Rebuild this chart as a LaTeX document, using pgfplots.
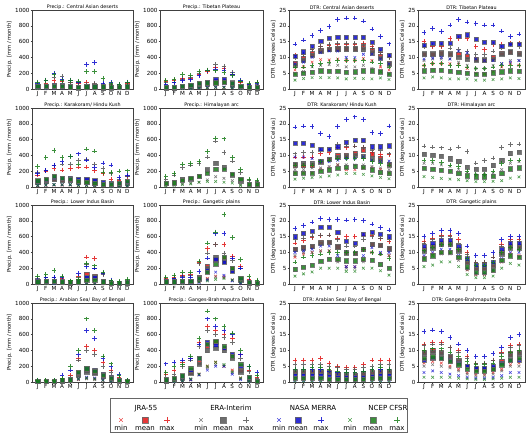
\documentclass[border=0pt]{standalone}
\usepackage{fontspec}
\setmainfont{DejaVu Sans}
\usepackage{pgfplots}
\usepackage{pgfplotstable}
\pgfplotsset{compat=1.18}

\definecolor{cJ}{RGB}{225,20,20}
\definecolor{cE}{RGB}{85,85,85}
\definecolor{cM}{RGB}{10,10,205}
\definecolor{cC}{RGB}{25,125,25}

% columns: m | JRA min mean max | ERA min mean max | MERRA min mean max | CFSR min mean max
\pgfplotstableread{
m a b c d e f g h i j k l
1 5 25 60 5 20 50 8 30 70 10 35 90
2 6 28 70 6 25 60 8 35 115 10 35 105
3 10 45 110 8 40 150 10 50 200 12 40 180
4 10 40 100 8 35 160 10 45 120 10 35 110
5 8 30 80 6 25 90 8 35 115 8 30 110
6 5 20 70 4 18 80 5 25 90 5 25 100
7 5 25 80 4 20 60 5 30 310 5 30 220
8 5 25 60 4 20 70 5 30 335 5 30 225
9 3 15 50 3 15 60 4 25 70 5 30 130
10 4 20 60 4 18 60 5 25 80 5 25 70
11 5 22 50 4 20 50 5 25 60 5 25 55
12 5 25 70 5 22 60 6 30 90 8 30 80
}\tpCAD
\pgfplotstableread{
m a b c d e f g h i j k l
1 3 15 100 3 12 80 5 20 60 5 25 110
2 4 18 110 3 15 90 5 25 80 5 28 120
3 6 28 130 5 25 120 8 35 110 8 40 180
4 8 35 130 6 30 150 10 45 120 10 50 170
5 10 45 180 8 40 200 12 60 170 12 70 220
6 15 70 220 12 65 240 20 90 230 15 80 240
7 20 100 280 18 90 310 25 120 250 20 80 230
8 20 95 260 18 85 290 25 125 240 20 85 210
9 12 60 190 10 55 210 15 80 180 15 70 170
10 5 25 90 4 20 100 8 35 110 8 35 100
11 2 12 60 2 10 50 4 18 60 4 20 70
12 2 12 80 2 10 60 4 18 70 4 20 90
}\tpTP
\pgfplotstableread{
m a b c d e f g h i j k l
1 6 8.2 10.8 4.8 7.5 10 8 10.5 14.2 2.8 4.8 7
2 7 9.7 11 5.5 9.2 11 8.5 11.8 15.5 3.3 5 7
3 8.5 11.2 12.5 7 10.8 12.5 10 13.6 17 3.6 5.3 7.5
4 9.3 12.2 13.5 7.5 12 13.5 11.5 15.2 18.5 3.6 5.8 8
5 9.2 12.5 13.8 7.7 12.5 14 12 16.1 19.8 3.6 5.6 8.5
6 9.5 12.8 14.2 7.5 12.8 14.5 12 16.5 22 3.5 5.6 9
7 9 12.6 14.2 7 12.8 14.5 10 16.3 22.5 3.2 5.4 9
8 9 12.6 14 7 12.8 14.5 10 16.3 22.5 3.4 5.5 9
9 9.7 13.2 14.5 7.5 12.5 14 11 16.3 21.5 3.3 5.8 9
10 9 12.2 13.5 6.5 11.5 13 11 14.8 19 3.2 5.8 8.5
11 7 10.3 11.5 5.5 9.8 11.5 9.5 12.6 16.6 3.5 5.5 8
12 6 8.2 10.3 4.8 7.8 10 8 10.7 14.3 3 4.8 7
}\tdCAD
\pgfplotstableread{
m a b c d e f g h i j k l
1 7.5 11.2 15 9 11 13.5 9.5 14 17.8 3.5 5.8 7.5
2 8 11.2 13.5 9.5 11 13.8 9.8 14.6 19.2 3.8 6 8
3 8 11.5 13.5 9.5 11.2 13.8 10 14.5 18.2 3.5 6 8
4 8 11.2 16 9.5 11 13 9.5 14.5 20.3 3.2 5.6 7.5
5 7.8 11 16 8.5 10 12.5 12 16.7 22 3.2 5.3 7.5
6 6.5 10.3 16 7.5 9.5 11.8 11.5 17.2 21.2 3.2 5 7
7 5 9.5 13.5 6.5 9.2 11 9.5 15.7 20.8 2.8 4.8 6.5
8 4.8 9.3 12.5 6.5 9.2 11 9 14.8 20.3 2.8 4.8 6.5
9 5.5 10 14 7.5 9.5 12 9 14.7 20.3 3 5.2 7
10 7 11.3 14 8 11 13 8 13.5 18.3 3.2 5.5 7.5
11 8 11.6 14.5 9 11.8 14 8.5 14.2 16.7 3.5 5.8 7.5
12 7.5 11.3 14.5 9 11 13.5 9 14.2 17.4 3.3 5.6 7.5
}\tdTP
\pgfplotstableread{
m a b c d e f g h i j k l
1 15 60 150 15 60 180 20 70 170 20 80 260
2 20 80 200 20 70 210 25 90 210 25 100 370
3 25 100 230 25 100 280 30 120 275 30 140 465
4 25 90 215 25 90 290 30 110 320 30 110 370
5 25 90 235 25 90 290 30 110 390 30 100 385
6 20 60 255 20 80 340 25 100 420 20 70 290
7 20 60 255 20 80 350 25 100 340 20 60 480
8 15 50 210 15 70 290 20 80 250 15 50 455
9 10 40 170 10 40 240 15 60 305 10 40 180
10 10 30 100 8 35 170 10 50 280 8 40 180
11 10 30 90 10 40 100 12 50 120 10 50 200
12 12 50 130 12 50 140 15 60 150 15 75 205
}\tpKHK
\pgfplotstableread{
m a b c d e f g h i j k l
1 nan nan nan 20 50 100 nan nan nan 15 45 130
2 nan nan nan 25 60 150 nan nan nan 20 55 170
3 nan nan nan 40 100 250 nan nan nan 30 90 290
4 nan nan nan 50 100 280 nan nan nan 40 110 300
5 nan nan nan 60 140 300 nan nan nan 60 135 320
6 nan nan nan 90 220 380 nan nan nan 70 180 450
7 nan nan nan 130 300 580 nan nan nan 70 230 620
8 nan nan nan 110 250 440 nan nan nan 60 230 610
9 nan nan nan 80 150 330 nan nan nan 50 160 370
10 nan nan nan 30 80 180 nan nan nan 20 100 220
11 nan nan nan 15 40 80 nan nan nan 10 40 100
12 nan nan nan 15 40 70 nan nan nan 10 35 90
}\tpHA
\pgfplotstableread{
m a b c d e f g h i j k l
1 4.5 6.8 9.5 5.5 7.3 10.5 9.5 14 19 2.5 4.3 7
2 4.5 6.8 9.5 5.5 7.5 11 9.5 14 19.3 2.8 4.4 7
3 4.5 6.8 9.5 6 7.6 11 9 13.2 19.2 3 4.5 7
4 5.5 7.8 10.5 6 8.2 11.5 8 12.1 17 3.2 5 8
5 6 8.8 11 6.5 8.8 12 8 12 16 3.5 5.5 8.5
6 7 10.2 12.5 7 9.5 13.5 8.5 12.8 19.2 3.8 6 9
7 5.5 10.2 12.5 7 9.7 13 9 14.1 21.3 4.3 6.3 9
8 5.5 10.8 13 7 10 13 9 14.8 22.2 4.3 6.5 9
9 6 11.6 12.5 7 9.8 12.5 9.5 14.7 21.3 4 6.3 9
10 6 10.4 11 6.5 9 11.5 8.5 12.8 17.3 3.5 5.5 8
11 5.5 9.2 10.3 6 8.5 11.5 8 12.8 16.9 3 4.6 7.5
12 4.5 7.1 10.3 5.5 7.2 10.5 8.2 13.1 19.3 2.6 4.3 7
}\tdKHK
\pgfplotstableread{
m a b c d e f g h i j k l
1 nan nan nan 7.5 10.4 13 nan nan nan 3.3 6 8.5
2 nan nan nan 7.5 10 12.6 nan nan nan 3 5.7 8.3
3 nan nan nan 7 9.8 12.4 nan nan nan 2.7 5.3 7.7
4 nan nan nan 6.5 9 12 nan nan nan 2.5 5 7
5 nan nan nan 5.5 8.1 12.7 nan nan nan 2.3 4.3 6.5
6 nan nan nan 4.5 6.4 11.2 nan nan nan 2 3.6 5
7 nan nan nan 4 5.6 7.6 nan nan nan 1.7 3.3 4
8 nan nan nan 4 5.7 8.3 nan nan nan 1.7 3.3 4
9 nan nan nan 4.5 6.8 9.2 nan nan nan 1.8 3.4 5
10 nan nan nan 5.5 8.6 12.5 nan nan nan 2 4.3 7.5
11 nan nan nan 7.5 10.6 13.4 nan nan nan 2.8 5.8 8.5
12 nan nan nan 8 11 13.6 nan nan nan 3.2 6.1 8.5
}\tdHA
\pgfplotstableread{
m a b c d e f g h i j k l
1 5 20 60 5 20 70 5 25 60 5 30 100
2 8 25 80 8 25 80 8 30 80 8 35 120
3 8 25 60 8 30 80 8 35 90 10 40 170
4 5 20 70 5 20 60 5 25 80 8 30 100
5 3 10 40 3 10 30 3 15 40 5 20 40
6 5 30 100 5 25 90 5 40 130 5 30 60
7 20 120 340 15 90 250 15 80 220 10 50 260
8 15 100 320 15 90 200 12 80 200 10 50 230
9 5 40 130 5 40 120 5 40 140 5 30 150
10 2 10 40 2 10 30 2 15 50 2 10 40
11 2 8 20 2 8 20 2 8 20 2 10 30
12 3 15 30 3 15 40 3 18 40 5 20 60
}\tpLIB
\pgfplotstableread{
m a b c d e f g h i j k l
1 5 25 70 5 20 60 5 20 60 8 30 90
2 8 30 80 6 25 70 6 25 70 8 30 110
3 8 30 110 6 25 100 6 25 80 10 35 150
4 10 40 120 8 35 110 8 35 80 10 40 150
5 30 90 270 25 80 260 20 60 160 30 70 290
6 70 230 450 60 200 390 50 170 330 40 150 520
7 100 300 500 90 340 500 150 310 640 60 250 660
8 90 320 500 80 290 390 110 280 640 70 340 880
9 50 200 350 50 180 300 40 170 330 50 200 590
10 10 60 220 10 50 200 10 60 200 20 70 310
11 3 15 60 3 12 50 3 12 40 5 20 100
12 2 10 30 2 8 30 2 8 20 3 12 50
}\tpGP
\pgfplotstableread{
m a b c d e f g h i j k l
1 8.5 11 13 9 11 14 10 15 17.5 2.5 4.6 7
2 9.5 11.7 13.8 10 11.5 14.5 10.5 16 18.5 3.2 5.3 8.5
3 10 12 14.8 10 12 15 11 16.8 19.6 3.8 6 9
4 10.5 13.2 15.4 10.5 13 15.5 12 18 20.7 5 7.2 9.5
5 10.5 13.2 15.5 10.5 13.2 15.5 12 18.1 20.5 5 7.8 10
6 7.5 11.8 14.5 7 11.8 14 9 16.3 20.5 5 7.8 10
7 5.5 9.8 15 5 10 12 5.5 13.6 20.2 4 7.4 10
8 5.5 9.8 15 5 9.7 12 5.5 13 20.4 4 7.4 10
9 7.5 11.1 15.5 7 11 14 9 15.7 20.1 5 7.8 11
10 10 12.6 15.5 10 12.5 15 11.5 16.4 19 5 7.6 10
11 9.5 12.4 14.3 9.5 12.2 14.5 10 15.8 17.8 4.2 6.2 9.5
12 9 11.3 13.5 9 11.2 14 10 15 17.1 2.8 5 8
}\tdLIB
\pgfplotstableread{
m a b c d e f g h i j k l
1 8.5 11 13.5 8 10.5 13 9 12 15 5.5 8 10.5
2 9.5 12 14.5 9 11.5 14 10 13 16 6 9 11.5
3 10 13 15.5 9.5 12.5 15 11 14 17 7 10 12.5
4 10 13 15.5 9.5 12.5 15 11 14 17 7 10 12.5
5 8 11 14 7.5 10.5 13 9 12 16 5.5 8.5 11
6 4.5 7 10 4.5 7 9.5 5 8 12 3 5.5 8
7 3 5 7 3 5 7 3.5 6 9 2 3.8 6
8 3 5 7 3 5 7 3.5 6 9 2 3.8 6
9 4 6 8.5 4 6 8.5 4.5 7 10 2.5 4.5 7
10 7 10 12.5 7 9.5 12 8 11 14 5 7.5 10
11 9.5 12 14 9 11.5 13.5 10 13 15 6.5 9 11.5
12 9 12 14 8.5 11.5 13.5 10 13 15 6 8.5 11
}\tdGP
\pgfplotstableread{
m a b c d e f g h i j k l
1 2 10 20 2 10 20 2 10 20 2 12 25
2 2 8 20 2 8 20 2 8 15 2 10 20
3 2 8 20 2 8 20 2 10 20 2 10 20
4 3 15 40 3 12 30 4 25 90 4 20 50
5 5 25 80 5 20 60 5 40 150 5 30 200
6 30 100 300 30 90 280 40 110 350 40 120 400
7 50 150 450 40 130 400 60 180 650 50 170 800
8 40 130 400 30 110 350 50 150 550 40 140 650
9 20 80 250 20 70 200 25 100 300 20 90 330
10 10 50 150 8 40 120 10 60 200 10 50 230
11 5 20 60 3 15 50 5 25 100 5 25 80
12 2 8 20 2 8 20 2 10 20 2 10 20
}\tpAS
\pgfplotstableread{
m a b c d e f g h i j k l
1 2 10 100 2 10 60 5 20 230 5 30 120
2 5 30 150 5 25 100 8 40 250 8 45 200
3 10 60 250 10 50 200 15 70 280 15 80 220
4 30 120 300 25 110 280 30 150 300 40 180 330
5 100 250 500 90 230 450 90 300 480 100 300 550
6 200 450 700 180 400 650 150 500 800 200 480 900
7 250 500 650 220 430 600 200 470 700 250 520 800
8 200 430 600 200 400 560 200 430 650 220 450 700
9 150 330 550 120 300 500 100 350 600 130 330 620
10 50 150 350 40 130 300 30 200 350 50 230 400
11 5 40 150 5 30 130 10 60 200 10 60 200
12 2 10 60 2 8 50 2 10 120 3 15 90
}\tpGBD
\pgfplotstableread{
m a b c d e f g h i j k l
1 1.5 3.5 7 1 3 5.5 0.5 2 4 0.3 1.2 4
2 1.5 3.5 7 1 3 5.5 0.5 2 4 0.3 1.2 4
3 1.5 3.5 7 1 3 5.5 0.5 2 4 0.3 1.2 4.5
4 1.5 3.5 7.5 1 3 5.5 0.5 2 4 0.3 1.2 4.5
5 1 3 6 0.8 2.8 5 0.5 1.8 3.5 0.3 1 4
6 1 2.5 5 0.8 2.5 4.5 0.5 1.5 3 0.3 1 3.5
7 0.8 2.2 4.5 0.7 2.2 4 0.4 1.4 3 0.3 0.9 3
8 0.8 2.2 4.5 0.7 2.2 4 0.4 1.4 3 0.3 0.9 3
9 1 2.8 5.5 0.8 2.5 4.5 0.5 1.6 3.5 0.3 1 3.5
10 1.2 3.2 7 1 2.8 5 0.5 1.8 4 0.3 1.1 4
11 1.5 3.5 7 1 3 5.5 0.5 2 4 0.3 1.2 4.5
12 1.5 3.5 7 1 3 5.5 0.5 2 4 0.3 1.2 4
}\tdAS
\pgfplotstableread{
m a b c d e f g h i j k l
1 6 9.5 12 5 9 11.5 3 7 16 1.5 7.5 10
2 6.5 10 12.5 5.5 9.5 12 3.5 7.5 16.5 1.5 8 10.5
3 6 9.5 12.5 5 9 12 3 7.5 16 1.5 7.5 10.5
4 5 8 11 4.5 8 11 2.5 7 14 1.5 6.5 9.5
5 4 7 10 3.5 6.5 9.5 2 6 12 1.2 5.5 8
6 3 5 8 2.5 5 7.5 1.5 5 10 1 4 6.5
7 2.5 4 6 2 4 6 1.2 4.5 8 0.8 3.5 5.5
8 2.5 4 6 2 4 6 1.2 4.5 8 0.8 3.5 5.5
9 3 4.5 7 2.5 4.5 7 1.5 5 9 1 4 6
10 4 6.5 9.5 3.5 6 9 2 6 11 1.2 5.5 8
11 5.5 9 11.5 5 8.5 11 3 7 14 1.5 7 9.5
12 6 9.5 12 5 9 11.5 3 7 15 1.5 7.5 10
}\tdGBD

\pgfplotsset{
  mn/.style={only marks, mark=x, mark size=1.9pt, opacity=0.75, mark options={line width=0.6pt}},
  me/.style={only marks, mark=square*, mark size=2.1pt, opacity=0.85, mark options={draw=black!60, line width=0.3pt}},
  mx/.style={only marks, mark=+, mark size=2.3pt, opacity=0.85, mark options={line width=0.7pt}},
  every axis title shift=0pt,
  panel/.style={scale only axis, width=#1, height=79pt,
    xmin=0.3, xmax=12.7, xtick={1,...,12},
    xticklabels={J,F,M,A,M,J,J,A,S,O,N,D},
    /pgf/number format/assume math mode=true,
    /pgf/number format/1000 sep={},
    tick label style={font=\fontsize{5.6}{6}\selectfont, inner sep=0.8pt},
    title style={font=\fontsize{4.8}{5}\selectfont, inner sep=0.6pt, at={(0.5,1)}, anchor=south},
    ylabel style={font=\fontsize{5.2}{6}\selectfont, yshift=-1pt},
    axis line style={black!75, line width=0.4pt},
    tick style={black!75, line width=0.4pt},
    tick align=outside, tick pos=left, major tick length=1.5pt,
    clip=false, ymin=0, anchor=south west},
  prec/.style={ymax=1000, ytick={0,200,...,1000}, ylabel={Precip. [mm / month]}},
  dtr/.style={ymax=25, ytick={0,5,...,25}, ylabel={DTR [degrees Celsius]}},
}

\newcommand{\drawsets}[1]{%
  \addplot[mn, cJ] table[x=m, y=a] {#1};
  \addplot[me, cJ] table[x=m, y=b] {#1};
  \addplot[mx, cJ] table[x=m, y=c] {#1};
  \addplot[mn, cE] table[x=m, y=d] {#1};
  \addplot[me, cE] table[x=m, y=e] {#1};
  \addplot[mx, cE] table[x=m, y=f] {#1};
  \addplot[mn, cM] table[x=m, y=g] {#1};
  \addplot[me, cM] table[x=m, y=h] {#1};
  \addplot[mx, cM] table[x=m, y=i] {#1};
  \addplot[mn, cC] table[x=m, y=j] {#1};
  \addplot[me, cC] table[x=m, y=k] {#1};
  \addplot[mx, cC] table[x=m, y=l] {#1};
}

\begin{document}
\begin{tikzpicture}
\useasboundingbox (0,0) rectangle (531pt,-433pt);

% row 1
\begin{axis}[panel=101pt, prec, at={(32pt,-89pt)}, title={Precip.: Central Asian deserts}]
\drawsets{\tpCAD}
\end{axis}
\begin{axis}[panel=103pt, prec, at={(160pt,-89pt)}, title={Precip.: Tibetan Plateau}]
\drawsets{\tpTP}
\end{axis}
\begin{axis}[panel=106pt, dtr, at={(289pt,-89pt)}, title={DTR: Central Asian deserts}]
\drawsets{\tdCAD}
\end{axis}
\begin{axis}[panel=107pt, dtr, at={(418pt,-89pt)}, title={DTR: Tibetan Plateau}]
\drawsets{\tdTP}
\end{axis}

% row 2
\begin{axis}[panel=101pt, prec, at={(32pt,-187pt)}, title={Precip.: Karakoram/ Hindu Kush}]
\drawsets{\tpKHK}
\end{axis}
\begin{axis}[panel=103pt, prec, at={(160pt,-187pt)}, title={Precip.: Himalayan arc}]
\drawsets{\tpHA}
\end{axis}
\begin{axis}[panel=106pt, dtr, at={(289pt,-187pt)}, title={DTR: Karakoram/ Hindu Kush}]
\drawsets{\tdKHK}
\end{axis}
\begin{axis}[panel=107pt, dtr, at={(418pt,-187pt)}, title={DTR: Himalayan arc}]
\drawsets{\tdHA}
\end{axis}

% row 3
\begin{axis}[panel=101pt, prec, at={(32pt,-284pt)}, title={Precip.: Lower Indus Basin}]
\drawsets{\tpLIB}
\end{axis}
\begin{axis}[panel=103pt, prec, at={(160pt,-284pt)}, title={Precip.: Gangetic plains}]
\drawsets{\tpGP}
\end{axis}
\begin{axis}[panel=106pt, dtr, at={(289pt,-284pt)}, title={DTR: Lower Indus Basin}]
\drawsets{\tdLIB}
\end{axis}
\begin{axis}[panel=107pt, dtr, at={(418pt,-284pt)}, title={DTR: Gangetic plains}]
\drawsets{\tdGP}
\end{axis}

% row 4
\begin{axis}[panel=101pt, prec, at={(32pt,-382pt)}, title={Precip.: Arabian Sea/ Bay of Bengal}]
\drawsets{\tpAS}
\end{axis}
\begin{axis}[panel=103pt, prec, at={(160pt,-382pt)}, title={Precip.: Ganges-Brahmaputra Delta}]
\drawsets{\tpGBD}
\end{axis}
\begin{axis}[panel=106pt, dtr, at={(289pt,-382pt)}, title={DTR: Arabian Sea/ Bay of Bengal}]
\drawsets{\tdAS}
\end{axis}
\begin{axis}[panel=107pt, dtr, at={(418pt,-382pt)}, title={DTR: Ganges-Brahmaputra Delta}]
\drawsets{\tdGBD}
\end{axis}

% legend
\begin{axis}[at={(0pt,-433pt)}, anchor=south west, scale only axis,
  width=531pt, height=433pt, xmin=0, xmax=531, ymin=0, ymax=433,
  hide axis, clip=false]
\draw[black!60, line width=0.7pt] (axis cs:110,0.6) rectangle (axis cs:407,35);
\addplot[mn, cJ, mark size=2.5pt] coordinates {(121,13)};
\addplot[me, cJ, mark size=2.8pt] coordinates {(145,13)};
\addplot[mx, cJ, mark size=2.8pt] coordinates {(167,13)};
\addplot[mn, cE, mark size=2.5pt] coordinates {(201,13)};
\addplot[me, cE, mark size=2.8pt] coordinates {(223,13)};
\addplot[mx, cE, mark size=2.8pt] coordinates {(246,13)};
\addplot[mn, cM, mark size=2.5pt] coordinates {(279,13)};
\addplot[me, cM, mark size=2.8pt] coordinates {(298,13)};
\addplot[mx, cM, mark size=2.8pt] coordinates {(321,13)};
\addplot[mn, cC, mark size=2.5pt] coordinates {(350,13)};
\addplot[me, cC, mark size=2.8pt] coordinates {(373,13)};
\addplot[mx, cC, mark size=2.8pt] coordinates {(397,13)};
\begin{scope}[every node/.style={font=\fontsize{7}{8}\selectfont, inner sep=0pt, anchor=base}]
\node at (axis cs:146,23) {JRA-55};
\node at (axis cs:231,23) {ERA-Interim};
\node at (axis cs:313,23) {NASA MERRA};
\node at (axis cs:388,23) {NCEP CFSR};
\node at (axis cs:121,2.5) {min};
\node at (axis cs:145,2.5) {mean};
\node at (axis cs:167,2.5) {max};
\node at (axis cs:201,2.5) {min};
\node at (axis cs:223,2.5) {mean};
\node at (axis cs:246,2.5) {max};
\node at (axis cs:279,2.5) {min};
\node at (axis cs:298,2.5) {mean};
\node at (axis cs:321,2.5) {max};
\node at (axis cs:350,2.5) {min};
\node at (axis cs:373,2.5) {mean};
\node at (axis cs:397,2.5) {max};
\end{scope}
\end{axis}
\end{tikzpicture}
\end{document}
